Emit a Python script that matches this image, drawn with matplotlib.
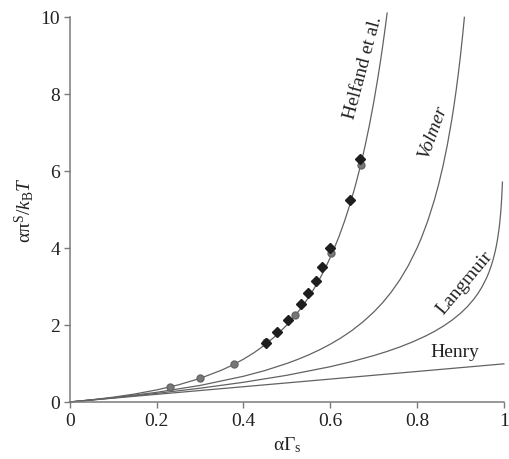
import matplotlib
matplotlib.use('Agg')
import matplotlib.pyplot as plt

# ── Data ─────────────────────────────────────────────────────────────────────
henry_x = [0.0, 1.0]
henry_y = [0.0, 0.99]

langmuir_x = [0, 0.1, 0.2, 0.3, 0.4, 0.5, 0.6, 0.65, 0.7, 0.73, 0.76, 0.79,
              0.82, 0.84, 0.86, 0.88, 0.9, 0.915, 0.93, 0.94, 0.95, 0.96,
              0.965, 0.97, 0.975, 0.98, 0.983, 0.986, 0.989, 0.991, 0.993,
              0.995, 0.9967]
langmuir_y = [0, 0.105, 0.223, 0.357, 0.511, 0.693, 0.916, 1.050, 1.204,
              1.309, 1.427, 1.561, 1.715, 1.833, 1.966, 2.120, 2.303, 2.465,
              2.659, 2.813, 2.996, 3.219, 3.352, 3.507, 3.689, 3.912, 4.075,
              4.269, 4.510, 4.711, 4.962, 5.298, 5.71]

volmer_x = [0, 0.1, 0.2, 0.3, 0.4, 0.45, 0.5, 0.525, 0.55, 0.575, 0.6, 0.625,
            0.65, 0.675, 0.7, 0.72, 0.74, 0.76, 0.78, 0.8, 0.81, 0.825, 0.84,
            0.85, 0.86, 0.87, 0.88, 0.885, 0.89, 0.895, 0.9, 0.905, 0.909]
volmer_y = [0, 0.111, 0.25, 0.429, 0.667, 0.818, 1.0, 1.105, 1.222, 1.353,
            1.5, 1.667, 1.857, 2.077, 2.333, 2.571, 2.846, 3.167, 3.545, 4.0,
            4.263, 4.714, 5.25, 5.667, 6.143, 6.692, 7.333, 7.696, 8.091,
            8.524, 9.0, 9.526, 9.99]

helfand_x = [0, 0.05, 0.1, 0.15, 0.2, 0.25, 0.3, 0.35, 0.375, 0.4, 0.425,
             0.45, 0.475, 0.5, 0.515, 0.53, 0.545, 0.56, 0.575, 0.59, 0.605,
             0.62, 0.633, 0.645, 0.658, 0.67, 0.68, 0.69, 0.7, 0.71, 0.715,
             0.72, 0.725, 0.731]
helfand_y = [0, 0.055, 0.124, 0.208, 0.313, 0.444, 0.612, 0.828, 0.96, 1.111,
             1.285, 1.488, 1.723, 2.0, 2.189, 2.399, 2.633, 2.893, 3.183, 3.51,
             3.878, 4.294, 4.70, 5.118, 5.626, 6.152, 6.641, 7.18, 7.778,
             8.442, 8.803, 9.184, 9.587, 10.1]

diamond_x = [0.451, 0.478, 0.503, 0.533, 0.548, 0.567, 0.582, 0.600, 0.645, 0.669]
diamond_y = [1.52, 1.81, 2.13, 2.54, 2.82, 3.13, 3.51, 3.99, 5.25, 6.31]

circle_x = [0.230, 0.300, 0.378, 0.451, 0.518, 0.602, 0.670]
circle_y = [0.40, 0.62, 0.98, 1.55, 2.27, 3.87, 6.16]

x_ticks = [0, 0.2, 0.4, 0.6, 0.8, 1]
x_ticklabels = ['0', '0.2', '0.4', '0.6', '0.8', '1']
y_ticks = [0, 2, 4, 6, 8, 10]

# ── Style ────────────────────────────────────────────────────────────────────
LINE = '#626262'
AXIS = '#7a7a7a'
TEXT = '#222222'
FS = 14

plt.rcParams['font.family'] = ['Liberation Serif', 'DejaVu Serif']
plt.rcParams['mathtext.fontset'] = 'custom'
plt.rcParams['mathtext.rm'] = 'Liberation Serif'
plt.rcParams['mathtext.it'] = 'Liberation Serif:italic'

fig = plt.figure(figsize=(5.1, 4.6), dpi=100)
ax = fig.add_axes([0.137, 0.124, 0.851, 0.837])

for xs, ys in [(henry_x, henry_y), (langmuir_x, langmuir_y),
               (volmer_x, volmer_y), (helfand_x, helfand_y)]:
    ax.plot(xs, ys, color=LINE, lw=0.9, clip_on=False, zorder=2)

ax.plot(circle_x, circle_y, 'o', ms=5, color='#777777', mec='#666666',
        zorder=3)
ax.plot(diamond_x, diamond_y, 'D', ms=5, color='#1e1e1e', mec='#1e1e1e',
        zorder=4)

# curve labels
ax.text(0.677, 8.70, 'Helfand et al.', rotation=75, ha='center', va='center',
        fontsize=FS, color=TEXT)
ax.text(0.837, 7.06, 'Volmer', rotation=70, ha='center', va='center',
        fontsize=FS, color=TEXT, style='italic')
ax.text(0.909, 3.12, 'Langmuir', rotation=50, ha='center', va='center',
        fontsize=FS, color=TEXT)
ax.text(0.886, 1.30, 'Henry', ha='center', va='center', fontsize=FS,
        color=TEXT)

ax.set_xlim(0, 1)
ax.set_ylim(0, 10)
ax.set_xticks(x_ticks)
ax.set_xticklabels(x_ticklabels)
ax.set_yticks(y_ticks)

for side in ('top', 'right'):
    ax.spines[side].set_visible(False)
for side in ('left', 'bottom'):
    ax.spines[side].set_color(AXIS)
    ax.spines[side].set_linewidth(1.1)
ax.tick_params(colors=AXIS, labelcolor=TEXT, labelsize=FS, length=4,
               width=1.0, direction='out', pad=3)

ax.set_xlabel('αΓ$_\\mathrm{s}$', fontsize=FS, color=TEXT, labelpad=4)
ax.set_ylabel('απ$^\\mathrm{S}$/$k_\\mathrm{B}T$', fontsize=FS, color=TEXT,
              labelpad=3)

fig.savefig('out.png', dpi=100)
